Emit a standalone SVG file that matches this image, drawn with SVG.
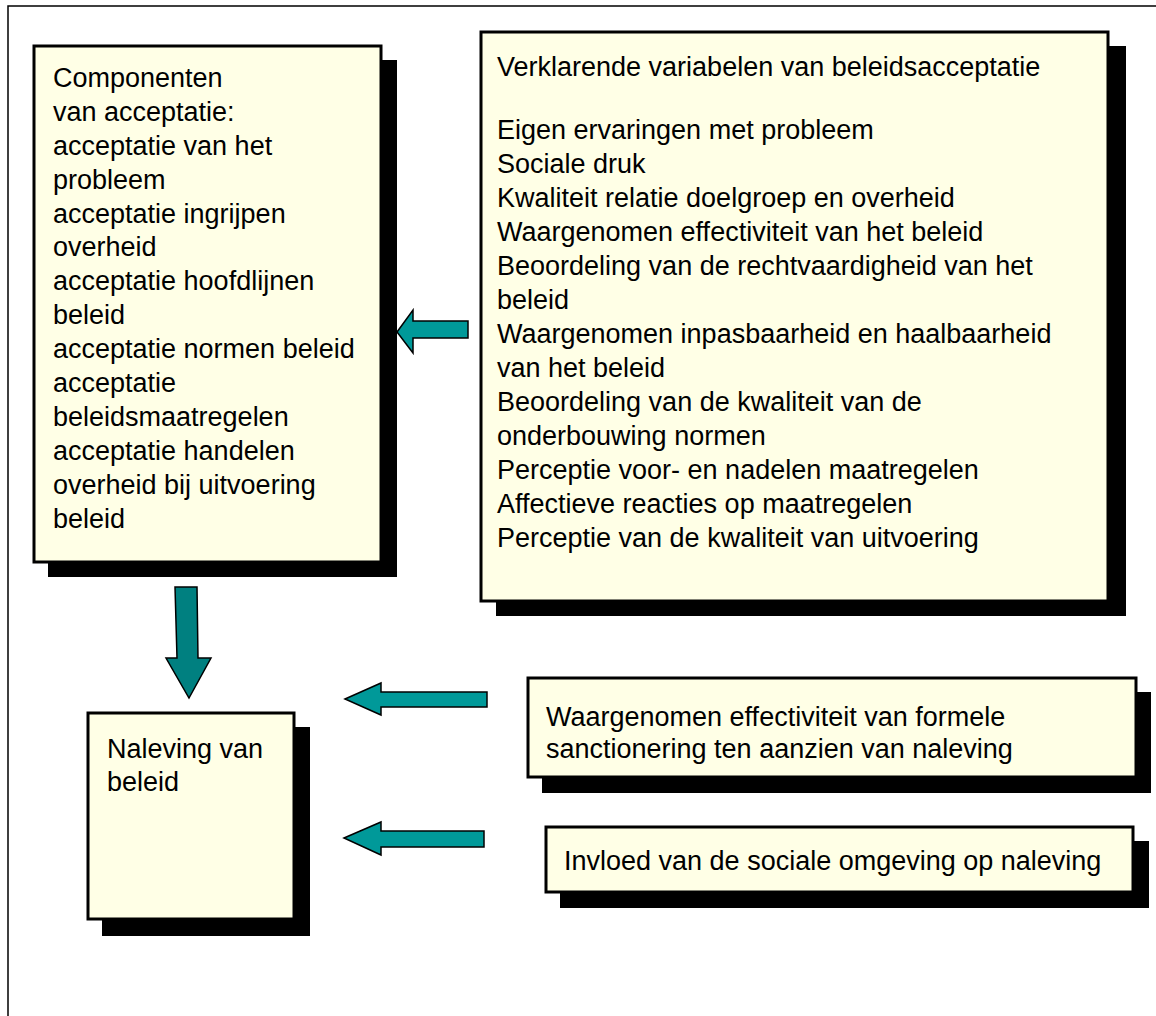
<svg xmlns="http://www.w3.org/2000/svg" width="1156" height="1016" viewBox="0 0 1156 1016">
<style>
.box{fill:#FFFFE6;stroke:#000;stroke-width:3}
.sh{fill:#000}
.t{font-family:"Liberation Sans",Arial,sans-serif;font-size:27px;fill:#000}
.ar{fill:#009999;stroke:#000;stroke-width:1.5;stroke-linejoin:miter}
.ard{fill:#008080;stroke:#000;stroke-width:1.5}
</style>
<rect x="0" y="0" width="1156" height="1016" fill="#fff"/>
<rect x="8" y="6" width="1170" height="1030" fill="none" stroke="#000" stroke-width="1.5"/>

<g id="componenten">
<rect class="sh" x="48" y="60" width="349" height="517"/>
<rect class="box" x="34" y="46" width="347" height="516"/>
<text class="t">
<tspan x="53" y="87">Componenten</tspan>
<tspan x="53" y="121">van acceptatie:</tspan>
<tspan x="53" y="155">acceptatie van het</tspan>
<tspan x="53" y="189">probleem</tspan>
<tspan x="53" y="223">acceptatie ingrijpen</tspan>
<tspan x="53" y="256">overheid</tspan>
<tspan x="53" y="290">acceptatie hoofdlijnen</tspan>
<tspan x="53" y="324">beleid</tspan>
<tspan x="53" y="358">acceptatie normen beleid</tspan>
<tspan x="53" y="392">acceptatie</tspan>
<tspan x="53" y="426">beleidsmaatregelen</tspan>
<tspan x="53" y="460">acceptatie handelen</tspan>
<tspan x="53" y="494">overheid bij uitvoering</tspan>
<tspan x="53" y="528">beleid</tspan>
</text>
</g>

<g id="verklarende">
<rect class="sh" x="496" y="46" width="630" height="570"/>
<rect class="box" x="481" y="32" width="627" height="569"/>
<text class="t">
<tspan x="497" y="76">Verklarende variabelen van beleidsacceptatie</tspan>
<tspan x="497" y="139">Eigen ervaringen met probleem</tspan>
<tspan x="497" y="173">Sociale druk</tspan>
<tspan x="497" y="207">Kwaliteit relatie doelgroep en overheid</tspan>
<tspan x="497" y="241">Waargenomen effectiviteit van het beleid</tspan>
<tspan x="497" y="275">Beoordeling van de rechtvaardigheid van het</tspan>
<tspan x="497" y="309">beleid</tspan>
<tspan x="497" y="343">Waargenomen inpasbaarheid en haalbaarheid</tspan>
<tspan x="497" y="377">van het beleid</tspan>
<tspan x="497" y="411">Beoordeling van de kwaliteit van de</tspan>
<tspan x="497" y="445">onderbouwing normen</tspan>
<tspan x="497" y="479">Perceptie voor- en nadelen maatregelen</tspan>
<tspan x="497" y="513">Affectieve reacties op maatregelen</tspan>
<tspan x="497" y="547">Perceptie van de kwaliteit van uitvoering</tspan>
</text>
</g>

<g id="naleving">
<rect class="sh" x="102" y="727" width="208" height="209"/>
<rect class="box" x="88" y="713" width="206" height="206"/>
<text class="t">
<tspan x="107" y="758">Naleving van</tspan>
<tspan x="107" y="791">beleid</tspan>
</text>
</g>

<g id="sanctionering">
<rect class="sh" x="542" y="692" width="609" height="101"/>
<rect class="box" x="528" y="678" width="608" height="99"/>
<text class="t">
<tspan x="546" y="726">Waargenomen effectiviteit van formele</tspan>
<tspan x="546" y="758">sanctionering ten aanzien van naleving</tspan>
</text>
</g>

<g id="sociale-omgeving">
<rect class="sh" x="560" y="841" width="589" height="67"/>
<rect class="box" x="546" y="827" width="587" height="65"/>
<text class="t">
<tspan x="564" y="870">Invloed van de sociale omgeving op naleving</tspan>
</text>
</g>

<g id="connectors">
<polygon class="ar" points="397,332 413,310 413,321 468,321 468,338 413,338 413,353"/>
<polygon class="ard" points="175,587 197,587 198,658 211,658 189,698 166,658 177,658"/>
<polygon class="ar" points="345,699 381,683 381,692 487,692 487,707 381,707 381,715"/>
<polygon class="ar" points="344,838 381,822 381,831 484,831 484,847 381,847 381,855"/>
</g>
</svg>
